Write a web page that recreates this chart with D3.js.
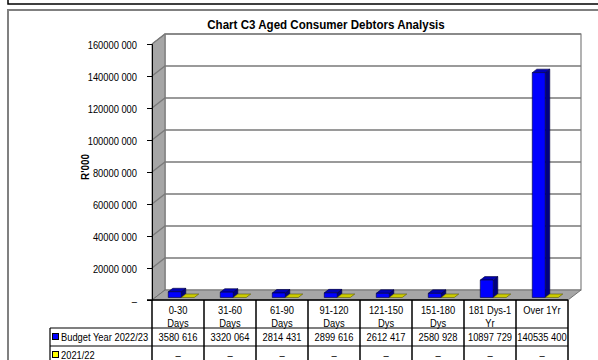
<!DOCTYPE html>
<html><head><meta charset="utf-8">
<script src="https://cdn.jsdelivr.net/npm/d3@7"></script>
<style>body{margin:0;background:#fff}svg{display:block;font-family:"Liberation Sans",Arial,sans-serif}</style>
</head><body><svg id="c" width="598" height="360"></svg>
<script>
const categories = ["0-30 Days","31-60 Days","61-90 Days","91-120 Days","121-150 Dys","151-180 Dys","181 Dys-1 Yr","Over 1Yr"];
const catLines = [["0-30","Days"],["31-60","Days"],["61-90","Days"],["91-120","Days"],["121-150","Dys"],["151-180","Dys"],["181 Dys-1","Yr"],["Over 1Yr"]];
const seriesNames = ["Budget Year 2022/23","2021/22"];
const budget = [3580616,3320064,2814431,2899616,2612417,2580928,10897729,140535400];
const prior = [0,0,0,0,0,0,0,0];
const yTicks = [0,20000000,40000000,60000000,80000000,100000000,120000000,140000000,160000000];

const svg = d3.select("#c");
const fmt = v => v === 0 ? "–" : Math.floor(v/1000) + " " + String(v%1000).padStart(3,"0");
const SX = 0.85, FS = 11;
function label(parent, xx, yy, txt, anchor, opts) {
  opts = opts || {};
  const t = parent.append("text")
    .attr("transform", `translate(${xx},${yy})${opts.rot ? " rotate(" + opts.rot + ")" : ""} scale(${opts.sx || SX},1)`)
    .attr("text-anchor", anchor || "start")
    .attr("font-size", opts.fs || FS)
    .attr("fill", "#000")
    .text(txt);
  if (opts.bold) t.attr("font-weight", "bold");
  return t;
}

// geometry
const X0 = 152, X1 = 568, Y0 = 300, DX = 13, DY = -10;
const x = d3.scaleBand().domain(categories).range([X0, X1]);
const xs = d3.scaleBand().domain(seriesNames).range([0, x.bandwidth()]).paddingOuter(1).paddingInner(0);
const yF = d3.scaleLinear().domain([0,160000000]).range([Y0, 44]);
const hgt = v => Y0 - yF(v);

// frames
svg.append("path").attr("d","M8,0 V4 H600").attr("fill","none").attr("stroke","#000").attr("stroke-width",1.5);
svg.append("rect").attr("x",8).attr("y",10).attr("width",600).attr("height",360).attr("fill","none").attr("stroke","#808080").attr("stroke-width",2);

// title
label(svg, 326, 28.5, "Chart C3 Aged Consumer Debtors Analysis", "middle", {bold:true, fs:13, sx:0.89});

// walls
const bx0 = X0+DX, bx1 = X1+DX;
svg.append("polygon").attr("points",[[bx0,yF(160000000)+DY],[bx1,yF(160000000)+DY],[bx1,Y0+DY],[bx0,Y0+DY]].join(" "))
  .attr("fill","#fff").attr("stroke","#808080").attr("stroke-width",1.2);
svg.append("polygon").attr("points",[[X0,Y0],[X0,yF(160000000)],[bx0,yF(160000000)+DY],[bx0,Y0+DY]].join(" "))
  .attr("fill","#a6a6a6").attr("stroke","#707070").attr("stroke-width",1);
svg.append("polygon").attr("points",[[X0,Y0],[X1,Y0],[bx1,Y0+DY],[bx0,Y0+DY]].join(" "))
  .attr("fill","#a6a6a6").attr("stroke","#707070").attr("stroke-width",1);

// gridlines
const grid = svg.append("g").attr("stroke","#7a7a7a").attr("stroke-width",1.3).attr("fill","none");
yTicks.filter(t=>t>0).forEach(t=>{
  grid.append("path").attr("d",`M${X0},${yF(t)} L${bx0},${yF(t)+DY} H${bx1}`);
});

// axis (ticks + line via d3 axis, labels re-set with condensed text)
const ax = svg.append("g").attr("transform",`translate(${X0},0)`)
  .call(d3.axisLeft(yF).tickValues(yTicks).tickSize(5).tickPadding(10).tickFormat(fmt));
ax.select(".domain").attr("stroke","#000");
ax.selectAll("line").attr("stroke","#000");
ax.selectAll("text").remove();
ax.selectAll(".tick").each(function(t){
  label(d3.select(this), -15, 4, fmt(t), "end");
});

label(svg, 89, 167, "R'000", "middle", {bold:true, rot:-90, sx:0.9});

// bars
const d0 = 0.25, d1 = 0.6;
const colors = {
  [seriesNames[0]]: {front:"#0000ff", top:"#0000b4", side:"#000080", stroke:"#00003a"},
  [seriesNames[1]]: {front:"#ffff00", top:"#cccc00", side:"#999900", stroke:"#55550a"}
};
const data = [];
categories.forEach((c,i)=>{
  seriesNames.forEach((s,j)=>{ data.push({c, s, v: j===0 ? budget[i] : prior[i]}); });
});
const bars = svg.append("g");
data.forEach(d=>{
  const col = colors[d.s];
  const fx = x(d.c) + xs(d.s) + DX*d0;
  const w = xs.bandwidth();
  const by = Y0 + DY*d0;
  const h = hgt(d.v);
  const ty = by - h;
  const ddx = DX*(d1-d0), ddy = DY*(d1-d0);
  const g = bars.append("g").attr("stroke",col.stroke).attr("stroke-width",0.6).attr("stroke-linejoin","round");
  if (h > 0) {
    g.append("polygon").attr("points",[[fx+w,by],[fx+w,ty],[fx+w+ddx,ty+ddy],[fx+w+ddx,by+ddy]].join(" ")).attr("fill",col.side);
  }
  g.append("polygon").attr("points",[[fx,ty],[fx+w,ty],[fx+w+ddx,ty+ddy],[fx+ddx,ty+ddy]].join(" ")).attr("fill",col.top);
  if (h > 0) {
    g.append("rect").attr("x",fx).attr("y",ty).attr("width",w).attr("height",h).attr("fill",col.front);
  }
});

// data table
const rowTop = Y0, r1 = 328, r2 = 346, r3 = 364, legL = 50;
const tb = svg.append("g");
const lines = svg.append("g").attr("stroke","#000").attr("stroke-width",1.5);
lines.append("line").attr("x1",X0-5).attr("x2",X1).attr("y1",rowTop).attr("y2",rowTop);
[r1,r2].forEach(y=>lines.append("line").attr("x1",legL).attr("x2",X1).attr("y1",y).attr("y2",y).attr("stroke-width",1.2));
categories.forEach(c=>lines.append("line").attr("x1",x(c)).attr("x2",x(c)).attr("y1",rowTop).attr("y2",r3));
lines.append("line").attr("x1",X1).attr("x2",X1).attr("y1",rowTop).attr("y2",r3);
lines.append("line").attr("x1",legL).attr("x2",legL).attr("y1",r1).attr("y2",r3).attr("stroke-width",1.2);

categories.forEach((c,i)=>{
  const cx = x(c) + x.bandwidth()/2;
  catLines[i].forEach((t,k)=>{
    label(tb, cx, 314 + k*12.5, t, "middle");
  });
  label(tb, cx, 341, fmt(budget[i]), "middle");
  label(tb, cx, 359, fmt(prior[i]), "middle");
});
seriesNames.forEach((s,j)=>{
  const yy = j===0 ? 337 : 355;
  svg.append("rect").attr("x",52.5).attr("y",yy-3.5).attr("width",6).attr("height",6)
    .attr("fill",colors[s].front).attr("stroke","#000").attr("stroke-width",1);
  label(tb, 61, yy+4, s, "start");
});
</script></body></html>
